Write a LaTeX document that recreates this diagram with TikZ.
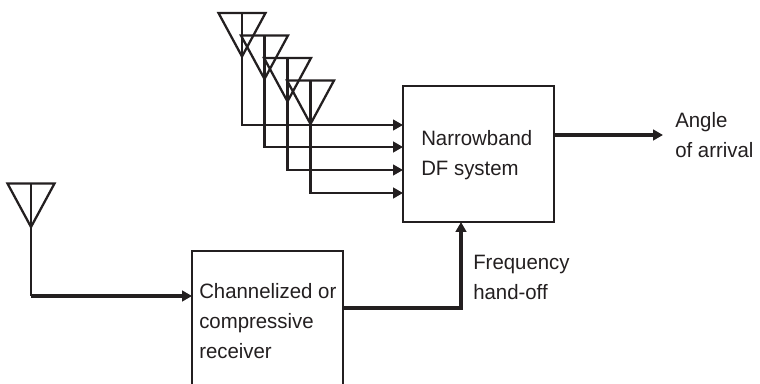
\documentclass[tikz,border=0pt]{standalone}
\usepackage{fontspec}
\setmainfont[FakeStretch=0.98]{Liberation Sans}
\usetikzlibrary{arrows.meta,calc}
\definecolor{ink}{HTML}{231F20}
\tikzset{
  every picture/.style={x=0.75pt,y=-0.75pt},
  blockbox/.style={draw=ink,line width=1.7pt,inner sep=0pt,outer sep=0pt},
  lbl/.style={text=ink,font=\fontsize{15.6pt}{22.5pt}\selectfont,align=left,anchor=west,inner sep=0pt},
  ant/.style={draw=ink,line width=1.7pt,line join=miter},
  feed/.style={draw=ink,line width=1.7pt,-{Triangle[length=7.5pt,width=8pt]}},
  heavy/.style={draw=ink,line width=3pt,-{Triangle[length=7.5pt,width=8pt]}}
}
\newcommand{\antenna}[2]{% name, apex
  \coordinate (#1) at #2;
  \draw[ant] ($(#1)+(-23.5,-43.5)$) -- ($(#1)+(23.5,-43.5)$) -- (#1) -- cycle;
  \draw[ant] (#1) -- ($(#1)+(0,-43.5)$);
}
\begin{document}
\begin{tikzpicture}
\useasboundingbox (0,0) rectangle (760,384);
\node[blockbox,minimum width=151pt*0.75,minimum height=136pt*0.75,anchor=north west] (df) at (403,86) {};
\begin{scope}
\clip (0,0) rectangle (760,384);
\node[blockbox,minimum width=151pt*0.75,minimum height=150pt*0.75,anchor=north west] (rx) at (192,251) {};
\end{scope}
\antenna{a}{(242,56.5)}
\antenna{b}{(264.5,79)}
\antenna{c}{(287.5,101.5)}
\antenna{d}{(310.5,124)}
\antenna{e}{(31,227)}
\coordinate (ain) at (df.west |- 0,125);
\coordinate (bin) at (df.west |- 0,147);
\coordinate (cin) at (df.west |- 0,170);
\coordinate (din) at (df.west |- 0,193);
\draw[feed] (a) |- (ain);
\draw[feed,line width=2.2pt] (b) |- (bin);
\draw[feed] (c) |- (cin);
\draw[feed,line width=2.2pt] (d) |- (din);
\coordinate (rxin) at (rx.west |- 0,296);
\draw[ant] (e) -- (e |- rxin);
\draw[heavy] (e |- rxin) -- (rxin);
\coordinate (rxout) at (rx.east |- 0,308);
\coordinate (dfin) at (461,222);
\draw[heavy] (rxout) -| (dfin);
\coordinate (dfout) at (df.east |- 0,135);
\coordinate (out) at (663,135);
\draw[heavy] (dfout) -- (out);
\node[lbl] (t1) at (421,155) {Narrowband\\DF system};
\node[lbl] (t2) at (199,321) {Channelized or\\compressive\\receiver};
\node[lbl] (t3) at (473,277.5) {Frequency\\hand-off};
\node[lbl] (t4) at (675,135.5) {Angle\\of arrival};
\end{tikzpicture}
\end{document}
